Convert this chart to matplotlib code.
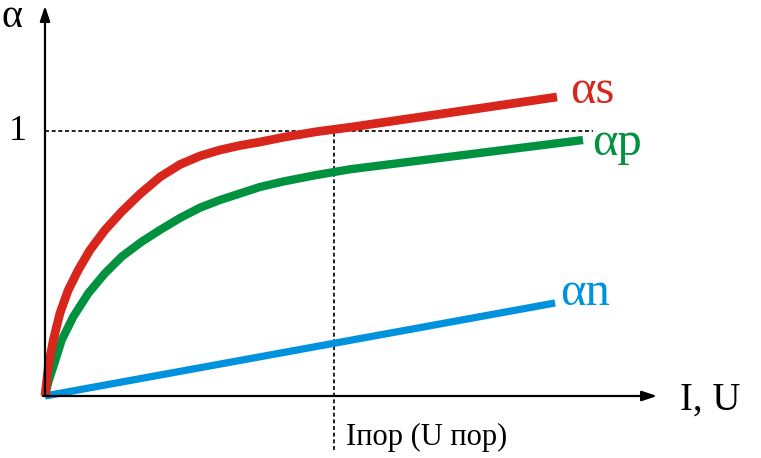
import matplotlib
matplotlib.use("Agg")
import matplotlib.pyplot as plt

# Data (x in units of I_пор, y in units of alpha)
x_s = [0, 0.0114, 0.0287, 0.0519, 0.0806, 0.1152, 0.1557, 0.2076, 0.2654, 0.3287,
       0.3979, 0.4671, 0.5363, 0.6055, 0.6747, 0.7439, 0.8246, 0.9401, 1.0554, 1.7716]
y_s = [0, 0.1106, 0.2113, 0.3132, 0.400, 0.4755, 0.5509, 0.6264, 0.6955, 0.7623,
       0.8264, 0.8736, 0.9057, 0.9283, 0.9453, 0.9585, 0.9762, 0.9974, 1.014, 1.1283]

x_p = [0, 0.0114, 0.0287, 0.0578, 0.0979, 0.1498, 0.2076, 0.2654, 0.3346, 0.3979,
       0.4671, 0.5363, 0.6055, 0.6747, 0.7439, 0.8246, 0.9401, 1.0554, 1.8616]
y_p = [0, 0.0528, 0.1106, 0.2113, 0.2992, 0.3875, 0.463, 0.5257, 0.5823, 0.6264,
       0.6717, 0.7106, 0.7396, 0.7642, 0.7887, 0.8094, 0.834, 0.8555, 0.966]

x_n = [0, 1.765]
y_n = [0, 0.351]

labels = {"s": "αs", "p": "αp", "n": "αn"}
axis_y_label = "α"
axis_x_label = "I, U"
threshold_label = "Iпор (U пор)"
one_label = "1"

RED = "#D9261C"
GREEN = "#00923F"
BLUE = "#0092DD"

fig = plt.figure(figsize=(7.61, 4.58), dpi=100)
ax = fig.add_axes([0, 0, 1, 1])
ax.set_xlim(-0.1557, 2.4775)
ax.set_ylim(-0.234, 1.4943)
ax.axis("off")

serif = ["Liberation Serif", "DejaVu Serif"]

# dashed guides
ax.plot([0, 1.896], [1, 1], color="black", lw=1.2, ls=(0, (2.4, 1.6)))
ax.plot([1, 1], [-0.204, 1.02], color="black", lw=1.2, ls=(0, (2.4, 1.6)))

# curves
ax.plot(x_n, y_n, color=BLUE, lw=5.2, solid_capstyle="butt", solid_joinstyle="round", zorder=3)
ax.plot(x_p, y_p, color=GREEN, lw=6.0, solid_capstyle="butt", solid_joinstyle="round", zorder=3)
ax.plot(x_s, y_s, color=RED, lw=6.3, solid_capstyle="butt", solid_joinstyle="round", zorder=4)

# axes with arrows
arrow = dict(arrowstyle="-|>,head_length=0.9,head_width=0.3", color="black", lw=1.6,
             shrinkA=0, shrinkB=0)
ax.annotate("", xy=(0, 1.472), xytext=(0, 0), arrowprops=arrow, zorder=5)
ax.annotate("", xy=(2.118, 0), xytext=(-0.007, 0), arrowprops=arrow, zorder=5)

# texts
ax.text(-0.1125, 1.3925, axis_y_label, family=serif, fontsize=29, ha="center", va="baseline")
ax.text(-0.095, 0.966, one_label, family=serif, fontsize=26, ha="center", va="baseline")
ax.text(2.198, -0.0528, axis_x_label, family=serif, fontsize=28, ha="left", va="baseline")
ax.text(1.042, -0.1849, threshold_label, family=serif, fontsize=22, ha="left", va="baseline")

ax.text(1.8166, 1.1057, labels["s"], family=serif, fontsize=35, color=RED, ha="left", va="baseline")
ax.text(1.8927, 0.9094, labels["p"], family=serif, fontsize=35, color=GREEN, ha="left", va="baseline")
ax.text(1.782, 0.3434, labels["n"], family=serif, fontsize=35, color=BLUE, ha="left", va="baseline")

fig.savefig("out.png", dpi=100)
